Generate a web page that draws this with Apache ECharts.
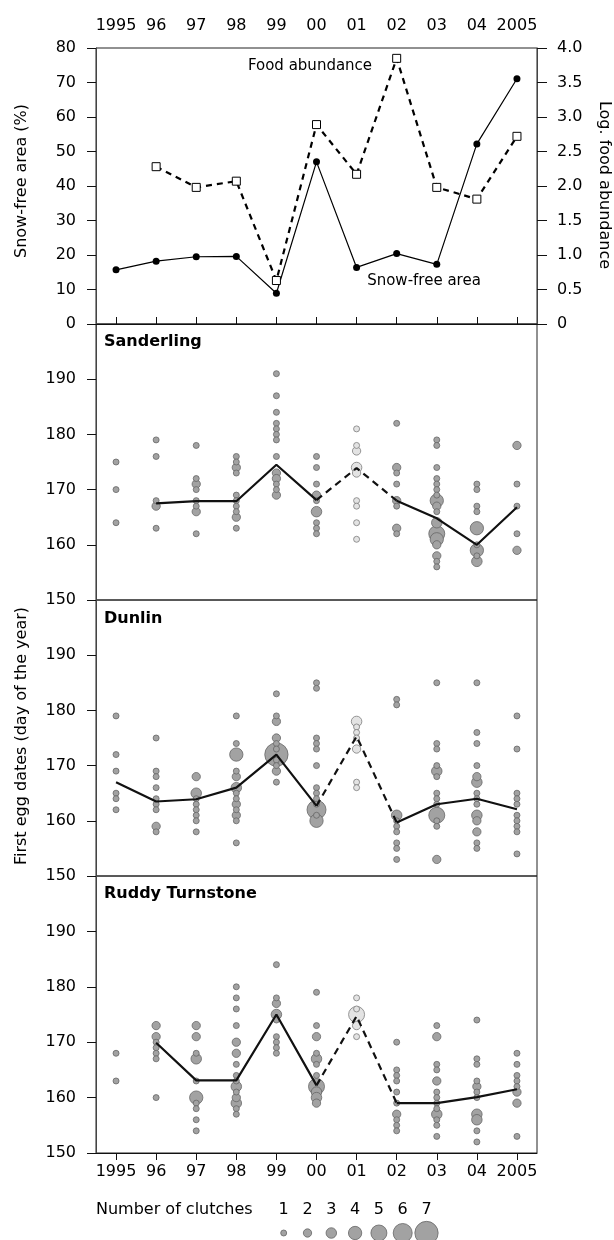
<!DOCTYPE html>
<html>
<head>
<meta charset="utf-8">
<script src="https://cdn.jsdelivr.net/npm/echarts@6/dist/echarts.min.js"></script>
<style>
html, body { margin: 0; padding: 0; background: #fff; }
#chart { width: 614px; height: 1240px; }
</style>
</head>
<body>
<div id="chart"></div>
<script>
var years = ['1995', '96', '97', '98', '99', '00', '01', '02', '03', '04', '2005'];
var snowFree = [15.7, 18.2, 19.5, 19.6, 8.9, 47.0, 16.4, 20.4, 17.3, 52.2, 71.1];
var foodAbundance = [null, 2.28, 1.98, 2.07, 0.63, 2.89, 2.17, 3.85, 1.98, 1.81, 2.72];

// mean first egg date per year
var sanderlingMean = [null, 167.5, 167.9, 167.9, 174.5, 168.1, 173.9, 168.0, 164.8, 160.0, 166.8];
var dunlinMean = [167.0, 163.5, 163.9, 166.0, 172.0, 162.7, 175.3, 159.7, 163.0, 164.0, 162.1];
var turnstoneMean = [null, 169.9, 163.1, 163.1, 175.0, 162.2, 174.7, 159.0, 159.0, 160.1, 161.5];

// [day, number of clutches] per year
var sanderlingClutches = [
	[[175, 1], [170, 1], [164, 1]],
	[[179, 1], [176, 1], [168, 1], [167, 2], [163, 1]],
	[[178, 1], [172, 1], [171, 2], [170, 1], [168, 1], [167, 1], [166, 2], [162, 1]],
	[[176, 1], [175, 1], [174, 2], [173, 1], [169, 1], [168, 1], [167, 1], [166, 1], [165, 2], [163, 1]],
	[[191, 1], [187, 1], [184, 1], [182, 1], [181, 1], [180, 1], [179, 1], [176, 1], [173, 2], [172, 2], [171, 1], [170, 1], [169, 2]],
	[[176, 1], [174, 1], [171, 1], [169, 2], [168, 1], [166, 3], [164, 1], [163, 1], [162, 1]],
	[[181, 1], [178, 1], [177, 2], [174, 3], [173, 2], [168, 1], [167, 1], [164, 1], [161, 1]],
	[[182, 1], [174, 2], [173, 1], [171, 1], [168, 2], [167, 1], [163, 2], [162, 1]],
	[[179, 1], [178, 1], [174, 1], [172, 1], [171, 1], [170, 1], [169, 1], [168, 4], [167, 2], [166, 1], [164, 3], [162, 5], [161, 4], [160, 2], [158, 2], [157, 1], [156, 1]],
	[[171, 1], [170, 1], [167, 1], [166, 1], [163, 4], [160, 1], [159, 4], [158, 1], [157, 3]],
	[[178, 2], [171, 1], [167, 1], [162, 1], [159, 2]]
];
var dunlinClutches = [
	[[179, 1], [172, 1], [169, 1], [165, 1], [164, 1], [162, 1]],
	[[175, 1], [169, 1], [168, 1], [166, 1], [164, 1], [163, 1], [162, 1], [159, 2], [158, 1]],
	[[168, 2], [165, 3], [164, 1], [163, 1], [162, 1], [161, 1], [160, 1], [158, 1]],
	[[179, 1], [174, 1], [172, 4], [169, 1], [168, 2], [166, 3], [165, 1], [164, 1], [163, 2], [162, 1], [161, 2], [160, 1], [156, 1]],
	[[183, 1], [179, 1], [178, 2], [175, 2], [174, 1], [173, 1], [172, 7], [171, 1], [170, 1], [169, 2], [167, 1]],
	[[185, 1], [184, 1], [175, 1], [174, 1], [173, 1], [170, 1], [166, 1], [165, 1], [164, 1], [163, 1], [162, 6], [161, 1], [160, 4]],
	[[178, 3], [177, 1], [176, 1], [175, 1], [173, 2], [167, 1], [166, 1]],
	[[182, 1], [181, 1], [161, 3], [160, 1], [159, 1], [158, 1], [156, 1], [155, 1], [153, 1]],
	[[185, 1], [174, 1], [173, 1], [170, 1], [169, 3], [168, 1], [165, 1], [164, 1], [163, 1], [161, 5], [160, 1], [159, 1], [153, 2]],
	[[185, 1], [176, 1], [174, 1], [170, 1], [168, 2], [167, 3], [165, 1], [164, 1], [163, 1], [161, 3], [160, 2], [158, 2], [156, 1], [155, 1]],
	[[179, 1], [173, 1], [165, 1], [164, 1], [163, 1], [161, 1], [160, 1], [159, 1], [158, 1], [154, 1]]
];
var turnstoneClutches = [
	[[168, 1], [163, 1]],
	[[173, 2], [171, 2], [170, 1], [169, 1], [168, 1], [167, 1], [160, 1]],
	[[173, 2], [171, 2], [168, 1], [167, 3], [163, 1], [160, 4], [159, 1], [158, 1], [156, 1], [154, 1]],
	[[180, 1], [178, 1], [176, 1], [173, 1], [170, 2], [168, 2], [166, 1], [164, 1], [163, 1], [162, 3], [161, 1], [160, 2], [159, 3], [158, 1], [157, 1]],
	[[184, 1], [178, 1], [177, 2], [175, 3], [174, 1], [171, 1], [170, 1], [169, 1], [168, 1]],
	[[179, 1], [173, 1], [171, 2], [168, 1], [167, 3], [166, 1], [164, 1], [162, 5], [161, 3], [160, 3], [159, 2]],
	[[178, 1], [176, 1], [175, 5], [173, 2], [171, 1]],
	[[170, 1], [165, 1], [164, 1], [163, 1], [161, 1], [159, 1], [157, 2], [156, 1], [155, 1], [154, 1]],
	[[173, 1], [171, 2], [166, 1], [165, 1], [163, 2], [161, 1], [160, 1], [159, 1], [158, 1], [157, 3], [156, 1], [155, 1], [153, 1]],
	[[174, 1], [167, 1], [166, 1], [163, 1], [162, 2], [161, 1], [160, 1], [157, 3], [156, 3], [154, 1], [152, 1]],
	[[168, 1], [166, 1], [164, 1], [163, 1], [162, 1], [161, 2], [159, 2], [153, 1]]
];

var legendCounts = [1, 2, 3, 4, 5, 6, 7];
var bubbleDiameter = [6, 8.3, 10.5, 13.3, 16, 19, 23.3];

var FONT = '"DejaVu Sans", sans-serif';

function bubbleData(clutches) {
	var out = [];
	for (var i = 0; i < clutches.length; i++) {
		for (var j = 0; j < clutches[i].length; j++) {
			var p = clutches[i][j];
			var item = { value: [i, p[0], p[1]] };
			if (years[i] == '01') {
				item.itemStyle = { color: '#e3e3e3', borderColor: '#7c7c7c' };
			}
			out.push(item);
		}
	}
	// big ones first so small circles stay visible
	out.sort(function(a, b) { return b.value[2] - a.value[2]; });
	return out;
}

function solidPart(mean) {
	return mean.map(function(v, i) { return years[i] == '01' ? null : v; });
}

function dashedPart(mean) {
	return mean.map(function(v, i) { return (i >= 5 && i <= 7) ? v : null; });
}

function panelXAxis(idx, show, pos) {
	return {
		type: 'category',
		gridIndex: idx,
		data: years,
		position: pos || 'bottom',
		boundaryGap: true,
		axisLine: { show: show, lineStyle: { color: '#111', width: 1 } },
		axisTick: { show: show, alignWithLabel: true, interval: 0, length: 7, lineStyle: { color: '#111' } },
		axisLabel: { show: show, interval: 0, color: '#000', fontSize: 16, fontFamily: FONT, margin: pos == 'top' ? 14 : 11 },
		splitLine: { show: false }
	};
}

function dayYAxis(idx) {
	return {
		type: 'value',
		gridIndex: idx,
		min: 150,
		max: 200,
		interval: 10,
		axisLine: { show: true, lineStyle: { color: '#444' } },
		axisTick: { show: true, length: 9, lineStyle: { color: '#111' } },
		axisLabel: {
			color: '#000', fontSize: 16, fontFamily: FONT, margin: 20,
			formatter: function(v) { return v == 200 ? '' : v; }
		},
		splitLine: { show: false }
	};
}

function bubbleSeries(axis, clutches) {
	return {
		type: 'scatter',
		xAxisIndex: axis,
		yAxisIndex: axis + 1,
		data: bubbleData(clutches),
		symbolSize: function(val) { return bubbleDiameter[val[2] - 1]; },
		itemStyle: { color: '#a2a2a2', borderColor: '#666', borderWidth: 0.8, opacity: 1 },
		z: 2,
		silent: true
	};
}

function meanSeries(axis, mean, dashed) {
	return {
		type: 'line',
		xAxisIndex: axis,
		yAxisIndex: axis + 1,
		data: dashed ? dashedPart(mean) : solidPart(mean),
		showSymbol: false,
		connectNulls: false,
		lineStyle: { color: '#111', width: 2.2, type: dashed ? [7, 5] : 'solid' },
		z: 3,
		silent: true
	};
}

function label(text, x, y, opt) {
	opt = opt || {};
	return {
		type: 'text',
		x: x,
		y: y,
		rotation: opt.rotation || 0,
		silent: true,
		style: {
			text: text,
			fill: '#000',
			fontSize: opt.size || 16,
			fontWeight: opt.bold ? 'bold' : 'normal',
			fontFamily: FONT,
			align: opt.align || 'center',
			verticalAlign: 'middle',
			textAlign: opt.align || 'center',
			textVerticalAlign: 'middle'
		}
	};
}

var gridStyle = { show: true, borderColor: '#222', borderWidth: 1, backgroundColor: 'transparent' };

var option = {
	animation: false,
	textStyle: { fontFamily: FONT },
	grid: [
		Object.assign({ left: 96, top: 48, width: 441, height: 276 }, gridStyle),
		Object.assign({ left: 96, top: 324, width: 441, height: 276 }, gridStyle),
		Object.assign({ left: 96, top: 600, width: 441, height: 276 }, gridStyle),
		Object.assign({ left: 96, top: 876, width: 441, height: 277 }, gridStyle),
		{ left: 271.8, top: 1226, width: 166.6, height: 14, show: false }
	],
	xAxis: [
		panelXAxis(0, true, 'top'),
		panelXAxis(1, false),
		panelXAxis(2, false),
		panelXAxis(3, true, 'bottom'),
		{
			type: 'category',
			gridIndex: 4,
			position: 'top',
			data: legendCounts.map(String),
			axisLine: { show: false },
			axisTick: { show: false },
			axisLabel: { interval: 0, color: '#000', fontSize: 16, fontFamily: FONT, margin: 8 },
			splitLine: { show: false }
		}
	],
	yAxis: [
		{
			type: 'value', gridIndex: 0, min: 0, max: 80, interval: 10,
			axisLine: { show: true, lineStyle: { color: '#444' } },
			axisTick: { show: true, length: 9, lineStyle: { color: '#111' } },
			axisLabel: { color: '#000', fontSize: 16, fontFamily: FONT, margin: 20 },
			splitLine: { show: false }
		},
		{
			type: 'value', gridIndex: 0, min: 0, max: 4, interval: 0.5, position: 'right',
			axisLine: { show: true, lineStyle: { color: '#444' } },
			axisTick: { show: true, length: 10, lineStyle: { color: '#111' } },
			axisLabel: {
				color: '#000', fontSize: 16, fontFamily: FONT, margin: 20,
				formatter: function(v) { return v == 0 ? '0' : v.toFixed(1); }
			},
			splitLine: { show: false }
		},
		dayYAxis(1),
		dayYAxis(2),
		dayYAxis(3),
		{ type: 'value', gridIndex: 4, min: 0, max: 1, show: false }
	],
	series: [
		{
			name: 'Snow-free area',
			type: 'line',
			xAxisIndex: 0,
			yAxisIndex: 0,
			data: snowFree,
			symbol: 'circle',
			symbolSize: 7,
			itemStyle: { color: '#000' },
			lineStyle: { color: '#000', width: 1.2 },
			z: 3,
			silent: true
		},
		{
			name: 'Food abundance',
			type: 'line',
			xAxisIndex: 0,
			yAxisIndex: 1,
			data: foodAbundance,
			symbol: 'rect',
			symbolSize: 8,
			itemStyle: { color: '#fff', borderColor: '#000', borderWidth: 1 },
			lineStyle: { color: '#000', width: 2.2, type: [6, 5] },
			z: 4,
			silent: true
		},
		bubbleSeries(1, sanderlingClutches),
		meanSeries(1, sanderlingMean, false),
		meanSeries(1, sanderlingMean, true),
		bubbleSeries(2, dunlinClutches),
		meanSeries(2, dunlinMean, false),
		meanSeries(2, dunlinMean, true),
		bubbleSeries(3, turnstoneClutches),
		meanSeries(3, turnstoneMean, false),
		meanSeries(3, turnstoneMean, true),
		{
			type: 'scatter',
			xAxisIndex: 4,
			yAxisIndex: 5,
			data: legendCounts.map(function(n, i) { return [i, 0.5, n]; }),
			symbolSize: function(val) { return bubbleDiameter[val[2] - 1]; },
			itemStyle: { color: '#a2a2a2', borderColor: '#666', borderWidth: 0.8, opacity: 1 },
			silent: true
		}
	],
	graphic: [
		label('Snow-free area (%)', 22, 181, { rotation: Math.PI / 2 }),
		label('Log. food abundance', 604, 185, { rotation: -Math.PI / 2 }),
		label('First egg dates (day of the year)', 22, 736, { rotation: Math.PI / 2 }),
		label('Food abundance', 310, 66, { size: 15 }),
		label('Snow-free area', 424, 281, { size: 15 }),
		label('Sanderling', 104, 342, { bold: true, align: 'left' }),
		label('Dunlin', 104, 619, { bold: true, align: 'left' }),
		label('Ruddy Turnstone', 104, 894, { bold: true, align: 'left' }),
		label('Number of clutches', 96, 1210, { align: 'left' })
	]
};

var chart = echarts.init(document.getElementById('chart'));
chart.setOption(option);
</script>
</body>
</html>
